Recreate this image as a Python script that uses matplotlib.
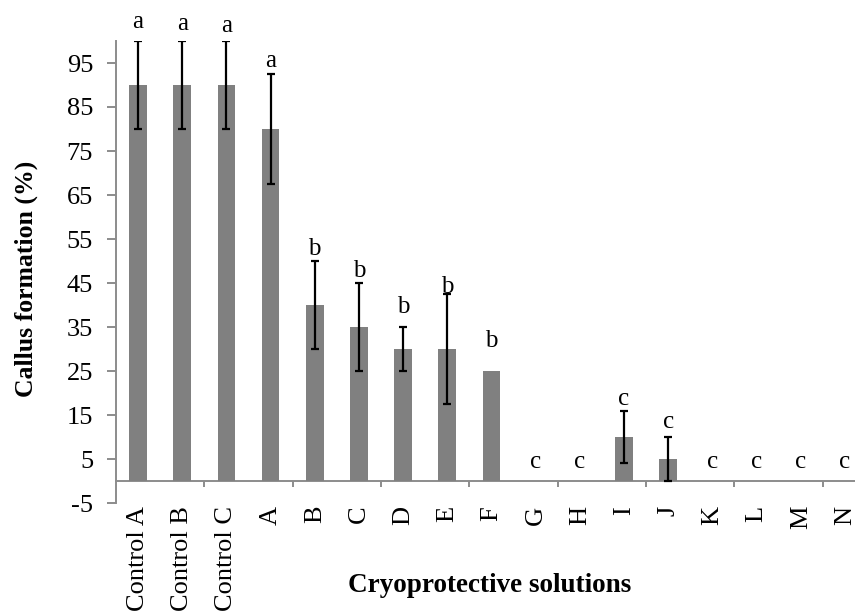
import matplotlib
matplotlib.use("Agg")
import matplotlib.pyplot as plt
import numpy as np

plt.rcParams['font.family'] = ['Liberation Serif', 'DejaVu Serif']
plt.rcParams['axes.unicode_minus'] = False

# Callus formation per cryoprotective solution
categories = ["Control A", "Control B", "Control C", "A", "B", "C", "D", "E", "F",
              "G", "H", "I", "J", "K", "L", "M", "N"]
callus = [90, 90, 90, 80, 40, 35, 30, 30, 25, 0, 0, 10, 5, 0, 0, 0, 0]
errors = [10, 10, 10, 12.5, 10, 10, 5, 12.5, 0, 0, 0, 6, 5, 0, 0, 0, 0]
letters = ["a", "a", "a", "a", "b", "b", "b", "b", "b",
           "c", "c", "c", "c", "c", "c", "c", "c"]
letter_y = [103, 102.5, 102, 94.2, 51.4, 46.3, 38.1, 42.8, 30.4,
            3, 3, 17.3, 12, 3, 3, 3, 3]
y_ticks = [-5, 5, 15, 25, 35, 45, 55, 65, 75, 85, 95]

axis_gray = "#8c8c8c"
bar_gray = "#808080"

fig = plt.figure(figsize=(8.55, 6.12), dpi=100)
ax = fig.add_axes([116 / 855, 109 / 612, 751 / 855, 462 / 612])

x = np.arange(len(categories))
ax.bar(x, callus, width=0.4, color=bar_gray, zorder=2)

err_idx = [i for i, e in enumerate(errors) if e > 0]
ax.errorbar(x[err_idx], [callus[i] for i in err_idx],
            yerr=[errors[i] for i in err_idx], fmt="none",
            ecolor="black", elinewidth=1.6, capsize=3.2, capthick=1.6, zorder=3)

for xi, lab, ly in zip(x, letters, letter_y):
    ax.text(xi, ly, lab, ha="center", va="baseline", fontsize=18, clip_on=False)

ax.set_xlim(-0.5, len(categories) - 0.5)
ax.set_ylim(-5, 100)
ax.set_yticks(y_ticks)
ax.tick_params(axis="y", direction="out", length=6.5, width=1.4,
               color=axis_gray, labelsize=19, pad=10)

# category names hang below the bottom of the value range
ax.set_xticks(x)
ax.set_xticklabels(categories, rotation=90, fontsize=19)
ax.tick_params(axis="x", length=0, pad=2)

for side in ("top", "right", "bottom"):
    ax.spines[side].set_visible(False)
ax.spines["left"].set_color(axis_gray)
ax.spines["left"].set_linewidth(1.4)

# category axis line at zero with a separator every two categories
sec = ax.secondary_xaxis(0, transform=ax.transData)
sec.set_xticks(np.arange(1.5, len(categories), 2))
sec.set_xticklabels([])
sec.tick_params(axis="x", direction="out", length=4.5, width=1.4, color=axis_gray)
sec.spines["bottom"].set_color(axis_gray)
sec.spines["bottom"].set_linewidth(1.4)

fig.text(26 / 855, 1 - 279 / 612, "Callus formation (%)", rotation=90,
         ha="center", va="center", fontsize=18.5, fontweight="bold")
fig.text(490 / 855, 1 - 586 / 612, "Cryoprotective solutions",
         ha="center", va="center", fontsize=19.5, fontweight="bold")

fig.savefig("out.png", dpi=100)
